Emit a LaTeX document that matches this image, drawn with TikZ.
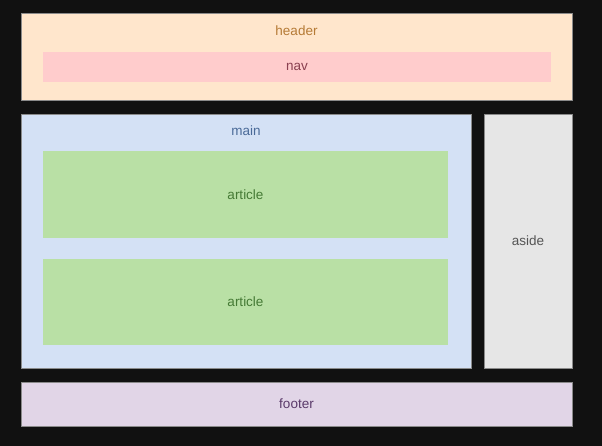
\documentclass[tikz,border=0pt]{standalone}
\usepackage{fontspec}
\setmainfont{Liberation Sans}
\usetikzlibrary{positioning}
\definecolor{pagebg}{HTML}{111111}
\definecolor{headerfill}{HTML}{FFE6CC}
\definecolor{navfill}{HTML}{FFCCCC}
\definecolor{mainfill}{HTML}{D4E1F5}
\definecolor{articlefill}{HTML}{B9E0A5}
\definecolor{asidefill}{HTML}{E6E6E6}
\definecolor{footerfill}{HTML}{E1D5E7}
\definecolor{boxline}{HTML}{8A8A8A}
\definecolor{headertext}{HTML}{B57A35}
\definecolor{navtext}{HTML}{8A4050}
\definecolor{maintext}{HTML}{4A6A98}
\definecolor{articletext}{HTML}{457A35}
\definecolor{asidetext}{HTML}{555555}
\definecolor{footertext}{HTML}{5A3A6A}
\tikzset{
  outerbox/.style={draw=boxline, line width=0.6pt, rectangle, inner sep=0pt, outer sep=0pt},
  innerbox/.style={rectangle, inner sep=0pt, outer sep=0pt},
  toplabel/.style={inner sep=0pt, anchor=center}
}

\begin{document}
\begin{tikzpicture}[x=1pt, y=-1pt, font=\fontsize{13.5}{16}\selectfont]
    \fill[pagebg] (0,0) rectangle (602,446);
    \useasboundingbox (0,0) rectangle (602,446);
    \node[outerbox, fill=headerfill, minimum width=551pt, minimum height=87pt,
          label={[toplabel, text=headertext, yshift=-18pt]north:header}] (header) at (296.5,56.5) {};
    \node[innerbox, fill=navfill, minimum width=508pt, minimum height=30pt, text=navtext] (nav) at (297,67) {nav};
    \node[outerbox, fill=mainfill, minimum width=450pt, minimum height=254pt,
          label={[toplabel, text=maintext, yshift=-17pt]north:main}] (main) at (246,241) {};
    \node[innerbox, fill=articlefill, minimum width=405pt, minimum height=87pt, text=articletext] (article1) at (245.5,194.5) {article};
    \node[innerbox, fill=articlefill, minimum width=405pt, minimum height=86pt, text=articletext] (article2) at (245.5,302) {article};
    \node[outerbox, fill=asidefill, minimum width=88pt, minimum height=254pt, text=asidetext] (aside) at (528,241) {aside};
    \node[outerbox, fill=footerfill, minimum width=551pt, minimum height=44pt, text=footertext] (footer) at (296.5,404) {footer};
\end{tikzpicture}
\end{document}
